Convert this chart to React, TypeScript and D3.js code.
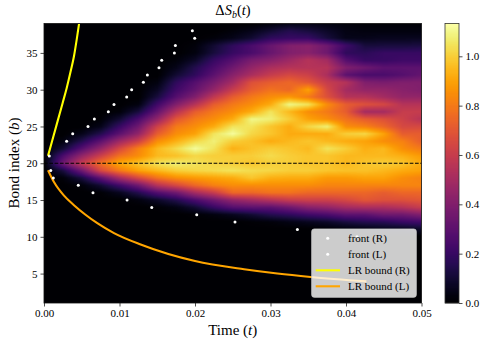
import React, { useEffect, useRef } from "react";
import * as d3 from "d3";

const times = [0, 0.0025, 0.005, 0.0075, 0.01, 0.0125, 0.015, 0.0175, 0.02, 0.0225, 0.025, 0.0275, 0.03, 0.0325, 0.035, 0.0375, 0.04, 0.0425, 0.045, 0.0475, 0.05];
const bonds = [39, 38, 37, 36, 35, 34, 33, 32, 31, 30, 29, 28, 27, 26, 25, 24, 23, 22, 21, 20, 19, 18, 17, 16, 15, 14, 13, 12, 11, 10, 9, 8, 7, 6, 5, 4, 3, 2, 1];

// one row per bond (same order as bonds), one column per time
const deltaS = [
  [0, 0, 0, 0, 0, 0, 0, 0, 0, 0, 0, 0, .02, .04, .04, .03, .02, .01, .01, .01, .01],
  [0, 0, 0, 0, 0, 0, 0, 0, 0, 0, .02, .05, .1, .15, .12, .08, .04, .03, .03, .03, .03],
  [0, 0, 0, 0, 0, 0, 0, 0, 0, .02, .05, .1, .18, .2, .2, .12, .05, .05, .06, .06, .06],
  [0, 0, 0, 0, 0, 0, 0, 0, .02, .1, .18, .25, .33, .4, .42, .35, .22, .12, .12, .12, .13],
  [0, 0, 0, 0, 0, 0, 0, 0, .03, .12, .2, .25, .33, .4, .42, .35, .18, .17, .2, .2, .2],
  [0, 0, 0, 0, 0, 0, 0, .02, .08, .2, .28, .38, .42, .48, .55, .5, .28, .2, .2, .22, .22],
  [0, 0, 0, 0, 0, 0, 0, .05, .15, .25, .35, .45, .52, .55, .55, .55, .4, .35, .3, .3, .3],
  [0, 0, 0, 0, 0, 0, 0, .1, .18, .3, .42, .52, .6, .65, .62, .52, .3, .25, .25, .28, .32],
  [0, 0, 0, 0, 0, 0, .03, .18, .28, .38, .5, .68, .72, .75, .7, .6, .55, .4, .38, .4, .4],
  [0, 0, 0, 0, 0, 0, .07, .22, .32, .45, .6, .72, .78, .75, .9, .65, .5, .45, .45, .42, .4],
  [0, 0, 0, 0, 0, 0, .12, .28, .4, .58, .72, .8, .85, .88, .8, .68, .55, .55, .5, .45, .45],
  [0, 0, 0, 0, 0, .03, .22, .4, .55, .72, .8, .85, .92, 1.1, 1.05, .85, .72, .68, .65, .55, .55],
  [0, 0, 0, 0, .02, .12, .32, .55, .72, .8, .85, .92, 1.05, .95, .85, .8, .72, .5, .5, .6, .6],
  [0, 0, 0, .01, .1, .25, .45, .7, .8, .85, .92, 1.1, 1.08, 1, .9, .85, .78, .72, .68, .62, .55],
  [0, 0, 0, .05, .2, .35, .62, .8, .85, .92, 1.05, 1.05, .98, .92, 1.02, 1.08, .85, .82, .75, .65, .65],
  [0, 0, .05, .15, .3, .45, .72, .85, .9, 1.05, 1.12, 1.02, .98, .92, .92, .92, 1, 1.02, .9, .72, .72],
  [0, .03, .15, .3, .48, .62, .85, .93, 1.02, 1.08, 1, .97, .92, .95, .98, .95, .92, .9, .85, .82, .72],
  [0, .1, .28, .45, .65, .82, .95, 1.03, 1.12, 1.05, .93, .97, 1, .98, .95, 1.05, 1, .93, .95, .85, .8],
  [0, .25, .45, .62, .78, .85, .95, .97, 1.02, 1, 1, 1, 1.03, 1, .98, .98, .95, .95, .95, .93, .88],
  [0, .35, .6, .78, .92, .98, 1.05, 1.08, 1.05, 1.02, 1, .98, 1, 1, .98, .98, .95, .98, 1, .98, .92],
  [0, .12, .35, .65, .8, .9, .95, 1, 1.02, 1.03, 1.05, 1.03, 1.02, 1, 1, .98, .97, .97, .95, .92, .9],
  [0, .02, .12, .3, .5, .65, .78, .85, .88, .9, .92, .98, .93, .92, .92, .88, .88, .9, .9, .85, .82],
  [0, 0, .02, .1, .22, .35, .55, .65, .75, .82, .85, .85, .85, .85, .85, .83, .83, .83, .83, .83, .83],
  [0, 0, 0, .01, .06, .15, .27, .35, .5, .6, .75, .75, .78, .78, .75, .75, .75, .75, .72, .75, .75],
  [0, 0, 0, 0, 0, .03, .08, .15, .25, .35, .45, .5, .55, .6, .62, .62, .65, .7, .68, .68, .7],
  [0, 0, 0, 0, 0, 0, .01, .04, .1, .2, .28, .3, .3, .35, .42, .45, .5, .52, .52, .55, .6],
  [0, 0, 0, 0, 0, 0, 0, 0, .01, .03, .06, .1, .15, .18, .22, .25, .3, .3, .35, .35, .4],
  [0, 0, 0, 0, 0, 0, 0, 0, 0, 0, 0, .01, .02, .04, .06, .08, .12, .15, .16, .2, .22],
  [0, 0, 0, 0, 0, 0, 0, 0, 0, 0, 0, 0, 0, 0, 0, .01, .02, .03, .05, .05, .08],
  [0, 0, 0, 0, 0, 0, 0, 0, 0, 0, 0, 0, 0, 0, 0, 0, 0, 0, 0, 0, 0],
  [0, 0, 0, 0, 0, 0, 0, 0, 0, 0, 0, 0, 0, 0, 0, 0, 0, 0, 0, 0, 0],
  [0, 0, 0, 0, 0, 0, 0, 0, 0, 0, 0, 0, 0, 0, 0, 0, 0, 0, 0, 0, 0],
  [0, 0, 0, 0, 0, 0, 0, 0, 0, 0, 0, 0, 0, 0, 0, 0, 0, 0, 0, 0, 0],
  [0, 0, 0, 0, 0, 0, 0, 0, 0, 0, 0, 0, 0, 0, 0, 0, 0, 0, 0, 0, 0],
  [0, 0, 0, 0, 0, 0, 0, 0, 0, 0, 0, 0, 0, 0, 0, 0, 0, 0, 0, 0, 0],
  [0, 0, 0, 0, 0, 0, 0, 0, 0, 0, 0, 0, 0, 0, 0, 0, 0, 0, 0, 0, 0],
  [0, 0, 0, 0, 0, 0, 0, 0, 0, 0, 0, 0, 0, 0, 0, 0, 0, 0, 0, 0, 0],
  [0, 0, 0, 0, 0, 0, 0, 0, 0, 0, 0, 0, 0, 0, 0, 0, 0, 0, 0, 0, 0],
  [0, 0, 0, 0, 0, 0, 0, 0, 0, 0, 0, 0, 0, 0, 0, 0, 0, 0, 0, 0, 0],
];

const frontRTimes = [.0007, .003, .0038, .00583, .00667, .00852, .00927, .01095, .01161, .01316, .01369, .01523, .01559, .01727, .0174, .01996, .01965];
const frontRBonds = [21, 23, 24, 25, 26, 27, 28, 29, 30, 31, 32, 33, 34, 35, 36, 37, 38];
const frontLTimes = [.00089, .00123, .00454, .00649, .011, .01427, .02023, .0253, .03356, .04146];
const frontLBonds = [19, 18, 17, 16, 15, 14, 13, 12, 11, 10];

const boundRTimes = [.00053, .00124, .00185, .00247, .003, .00353, .00397, .00433, .00464];
const boundRBonds = [21, 23.64, 25.9, 28.2, 30.2, 32.5, 34.55, 36.8, 38.96];
const boundLTimes = [.00053, .00132, .00265, .00397, .0055, .00706, .00927, .0128, .02, .0265, .0309, .0353, .0427];
const boundLBonds = [19.05, 17.45, 15.6, 14.3, 13.0, 11.85, 10.5, 8.95, 6.7, 5.58, 5.0, 4.54, 3.94];

const xTicks = [0, 0.01, 0.02, 0.03, 0.04, 0.05];
const yTicks = [5, 10, 15, 20, 25, 30, 35];
const cbTicks = [0, 0.2, 0.4, 0.6, 0.8, 1.0];
const legendLabels = ["front (R)", "front (L)", "LR bound (R)", "LR bound (L)"];

const FONT = "'Liberation Serif', serif";

const App = () => {
  const svgRef = useRef<SVGSVGElement>(null);

  useEffect(() => {
    d3.select(svgRef.current).selectAll("*").remove();

    const left = 44, right = 421.5, top = 23.5, bottom = 303;
    const width = right - left, height = bottom - top;

    const svg = d3.select(svgRef.current).attr("width", 488).attr("height", 346)
      .style("position", "absolute").style("left", 0).style("top", 0)
      .attr("font-family", FONT);

    const x = d3.scaleLinear().domain([0, 0.05]).range([left, right]);
    const y = d3.scaleLinear().domain([1, 39]).range([bottom, top]);
    const vmax = 1.133;
    const color = d3.scaleSequential(d3.interpolateInferno).domain([0, vmax]);

    // bilinear heatmap rendered to an offscreen canvas, like imshow
    const w = Math.round(width), h = Math.round(height);
    const canvas = document.createElement("canvas");
    canvas.width = w;
    canvas.height = h;
    const ctx = canvas.getContext("2d")!;
    const img = ctx.createImageData(w, h);
    const fracT = d3.scaleLinear().domain(times).range(times.map((_, i) => i)).clamp(true);
    const ascending = bonds.slice().reverse();
    const fracB = d3.scaleLinear().domain(ascending).range(ascending.map((_, i) => bonds.length - 1 - i)).clamp(true);
    for (let py = 0; py < h; py++) {
      const r = fracB(y.invert(top + ((py + 0.5) / h) * height));
      const r0 = Math.floor(r), r1 = Math.min(r0 + 1, bonds.length - 1), rf = r - r0;
      for (let px = 0; px < w; px++) {
        const c = fracT(x.invert(left + ((px + 0.5) / w) * width));
        const c0 = Math.floor(c), c1 = Math.min(c0 + 1, times.length - 1), cf = c - c0;
        const v =
          (1 - rf) * ((1 - cf) * deltaS[r0][c0] + cf * deltaS[r0][c1]) +
          rf * ((1 - cf) * deltaS[r1][c0] + cf * deltaS[r1][c1]);
        const rgb = d3.rgb(color(v));
        const k = (py * w + px) * 4;
        img.data[k] = rgb.r;
        img.data[k + 1] = rgb.g;
        img.data[k + 2] = rgb.b;
        img.data[k + 3] = 255;
      }
    }
    ctx.putImageData(img, 0, 0);

    svg.append("image")
      .attr("x", left).attr("y", top).attr("width", width).attr("height", height)
      .attr("preserveAspectRatio", "none")
      .attr("href", canvas.toDataURL());

    const defs = svg.append("defs");
    defs.append("clipPath").attr("id", "plot-clip").append("rect")
      .attr("x", left).attr("y", top).attr("width", width).attr("height", height);

    const plot = svg.append("g").attr("clip-path", "url(#plot-clip)");

    // dashed line at the centre bond
    plot.append("line")
      .attr("x1", x(0)).attr("x2", x(0.05)).attr("y1", y(20)).attr("y2", y(20))
      .attr("stroke", "black").attr("stroke-width", 1).attr("stroke-dasharray", "3.7 1.6");

    const line = d3.line<number>().x((d) => x(d)).curve(d3.curveMonotoneX);
    plot.append("path")
      .attr("d", line.y((_, i) => y(boundRBonds[i]))(boundRTimes))
      .attr("fill", "none").attr("stroke", "#ffff00").attr("stroke-width", 2.1);
    plot.append("path")
      .attr("d", line.y((_, i) => y(boundLBonds[i]))(boundLTimes))
      .attr("fill", "none").attr("stroke", "#ffa500").attr("stroke-width", 2.1);

    const dots = (ts: number[], bs: number[]) =>
      plot.append("g").selectAll("circle").data(ts).join("circle")
        .attr("cx", (d) => x(d)).attr("cy", (_, i) => y(bs[i]))
        .attr("r", 1.5).attr("fill", "white");
    dots(frontRTimes, frontRBonds);
    dots(frontLTimes, frontLBonds);

    // legend
    const lx = 311.7, ly = 229, lw = 104.6, lh = 68.3;
    svg.append("rect")
      .attr("x", lx).attr("y", ly).attr("width", lw).attr("height", lh).attr("rx", 2.5)
      .attr("fill", "white").attr("fill-opacity", 0.8)
      .attr("stroke", "#cccccc").attr("stroke-opacity", 0.8).attr("stroke-width", 1);
    const rowY = d3.scalePoint().domain(legendLabels).range([238.3, 286.3]);
    const legendRow = svg.append("g").selectAll("g").data(legendLabels).join("g")
      .attr("transform", (d) => `translate(0, ${rowY(d)})`);
    legendRow.append("text")
      .text((d) => d).attr("x", 348).attr("y", 3.5).attr("font-size", 11).attr("fill", "black");
    legendRow.filter((_, i) => i < 2).append("circle")
      .attr("cx", 327.7).attr("cy", 0).attr("r", 1.5).attr("fill", "white");
    legendRow.filter((_, i) => i >= 2).append("line")
      .attr("x1", 315.7).attr("x2", 340)
      .attr("stroke", (_, i) => (i === 0 ? "#ffff00" : "#ffa500")).attr("stroke-width", 2.1);

    // axes
    const styleAxis = (g: any) => {
      g.attr("font-family", FONT).attr("font-size", 11);
      g.selectAll("text").attr("fill", "black");
      g.selectAll("line").attr("stroke", "#222").attr("stroke-width", 0.8);
      g.select(".domain").remove();
    };
    svg.append("g").attr("transform", `translate(0, ${bottom})`)
      .call(d3.axisBottom(x).tickValues(xTicks).tickFormat(d3.format(".2f")).tickSize(3.5).tickPadding(3))
      .call(styleAxis);
    svg.append("g").attr("transform", `translate(${left}, 0)`)
      .call(d3.axisLeft(y).tickValues(yTicks).tickSize(3.5).tickPadding(3))
      .call(styleAxis);

    svg.append("rect")
      .attr("x", left).attr("y", top).attr("width", width).attr("height", height)
      .attr("fill", "none").attr("stroke", "#111").attr("stroke-width", 0.8);

    // axis labels
    const xLabel = svg.append("text").attr("x", 232.7).attr("y", 335)
      .attr("text-anchor", "middle").attr("font-size", 15).attr("fill", "black");
    xLabel.append("tspan").text("Time (");
    xLabel.append("tspan").attr("font-style", "italic").text("t");
    xLabel.append("tspan").text(")");

    const yLabel = svg.append("text")
      .attr("transform", `translate(19, 163) rotate(-90)`)
      .attr("text-anchor", "middle").attr("font-size", 15).attr("fill", "black");
    yLabel.append("tspan").text("Bond index (");
    yLabel.append("tspan").attr("font-style", "italic").text("b");
    yLabel.append("tspan").text(")");

    const title = svg.append("text").attr("x", 233).attr("y", 15)
      .attr("text-anchor", "middle").attr("font-size", 14.5).attr("fill", "black");
    title.append("tspan").text("\u0394");
    title.append("tspan").attr("font-style", "italic").text("S");
    title.append("tspan").attr("font-style", "italic").attr("font-size", 10).attr("dy", 2.5).text("b");
    title.append("tspan").attr("dy", -2.5).text("(");
    title.append("tspan").attr("font-style", "italic").text("t");
    title.append("tspan").text(")");

    // colorbar
    const cbLeft = 445, cbRight = 459;
    const cb = d3.scaleLinear().domain([0, vmax]).range([bottom, top]);
    svg.append("g").selectAll("rect").data(d3.range(0, 280))
      .join("rect")
      .attr("x", cbLeft).attr("width", cbRight - cbLeft)
      .attr("y", (d) => bottom - d - 1).attr("height", 1.3)
      .attr("fill", (d) => color(cb.invert(bottom - d - 0.5)));
    svg.append("g").attr("transform", `translate(${cbRight}, 0)`)
      .call(d3.axisRight(cb).tickValues(cbTicks).tickFormat(d3.format(".1f")).tickSize(3.5).tickPadding(3))
      .call(styleAxis);
    svg.append("rect")
      .attr("x", cbLeft).attr("y", top).attr("width", cbRight - cbLeft).attr("height", height)
      .attr("fill", "none").attr("stroke", "#333").attr("stroke-width", 0.8);
  }, []);

  return <svg ref={svgRef} />;
};

export default App;
